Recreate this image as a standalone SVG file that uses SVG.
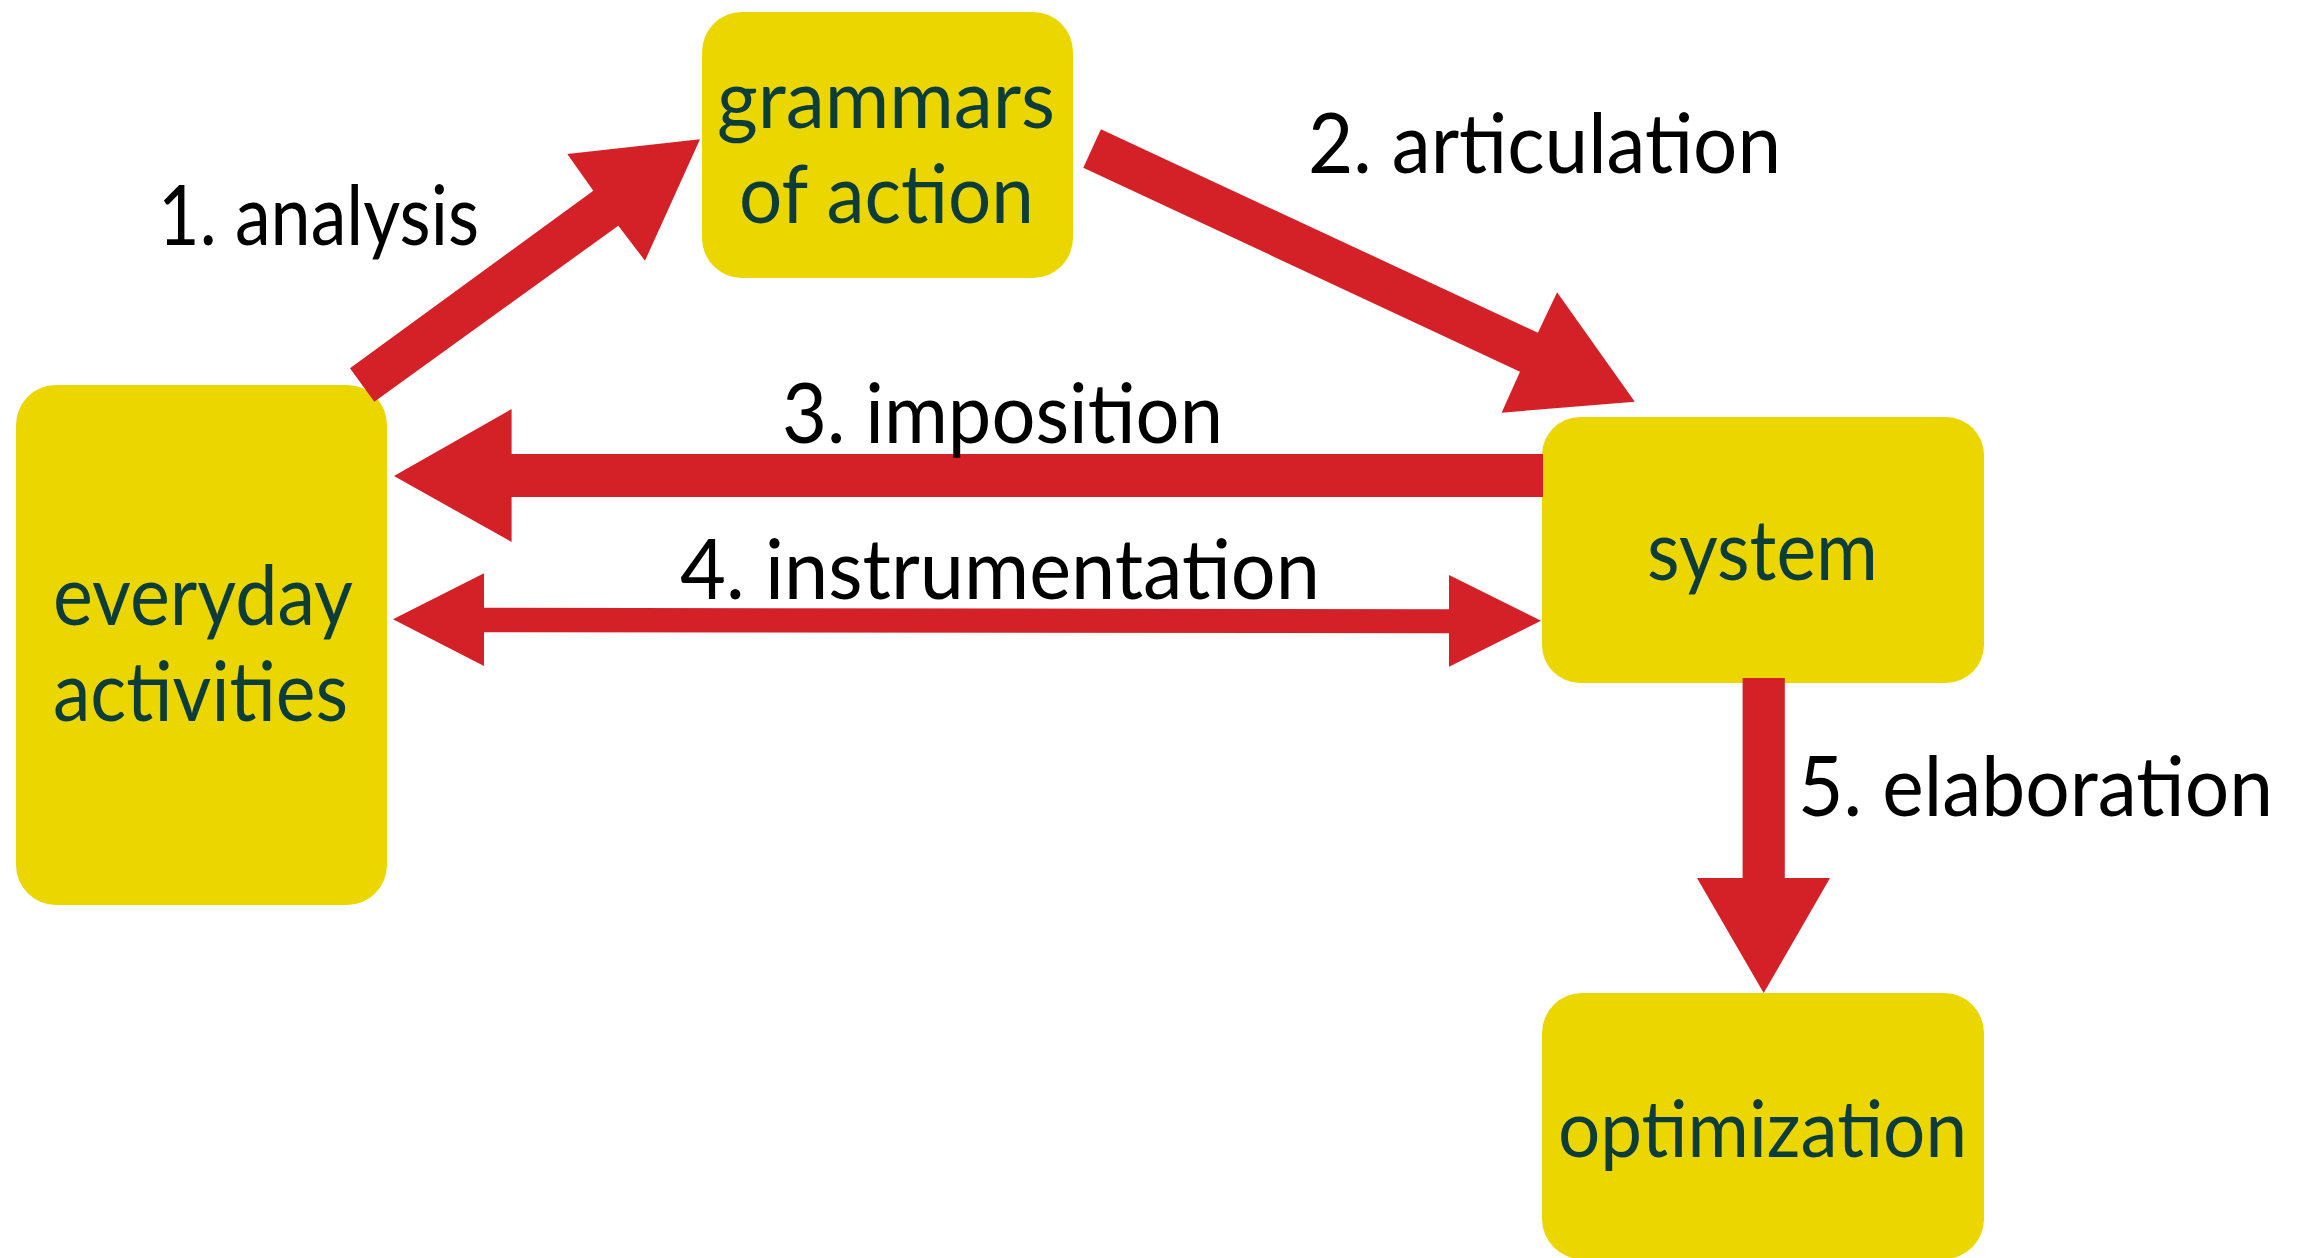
<svg xmlns="http://www.w3.org/2000/svg" width="2308" height="1258" viewBox="0 0 2308 1258">
<style>
.box{fill:#ECD600}
.nt{fill:#0C3D38;font-family:Lato,"Open Sans","Liberation Sans",sans-serif}
.lb{fill:#000;font-family:Lato,"Open Sans","Liberation Sans",sans-serif;font-size:84px}
.ar{fill:#D42027}
</style>
<rect width="2308" height="1258" fill="#fff"/>
<g id="everyday-activities">
<rect class="box" x="16" y="385" width="371" height="520" rx="40"/>
<text class="nt" x="53" y="625" font-size="84" textLength="300" lengthAdjust="spacingAndGlyphs">everyday</text>
<text class="nt" x="53" y="721" font-size="84" textLength="295" lengthAdjust="spacingAndGlyphs">activities</text>
</g>
<g id="grammars-of-action">
<rect class="box" x="702" y="12" width="371" height="266" rx="40"/>
<text class="nt" x="717" y="128" font-size="82" textLength="338" lengthAdjust="spacingAndGlyphs">grammars</text>
<text class="nt" x="739" y="223" font-size="82" textLength="295" lengthAdjust="spacingAndGlyphs">of action</text>
</g>
<g id="system">
<rect class="box" x="1542" y="417" width="442" height="266" rx="38"/>
<text class="nt" x="1647" y="580" font-size="84" textLength="231" lengthAdjust="spacingAndGlyphs">system</text>
</g>
<g id="optimization">
<rect class="box" x="1542" y="993" width="442" height="266" rx="40"/>
<text class="nt" x="1558" y="1157" font-size="80" textLength="409" lengthAdjust="spacingAndGlyphs">optimization</text>
</g>
<g id="connectors">
<polygon class="ar" points="350,368.3 593.3,190.7 567.3,154 700,139.3 645,260.7 618.3,225.7 374.3,401.7"/>
<polygon class="ar" points="1100.9,129.3 1537.9,332.7 1557.1,292.3 1634.8,401.7 1501.6,412.7 1520,371.7 1083.3,167.7"/>
<polygon class="ar" points="1543,454 511.6,454 511.6,409 394,476 511.6,542 511.6,497 1543,497"/>
<polygon class="ar" points="393,619.3 484,573.3 484,607.7 1449,609.3 1449,575 1541,620.7 1449,666.7 1449,633.3 484,632.3 484,666"/>
<polygon class="ar" points="1742.6,678 1784.8,678 1784.8,878 1830,878 1763.7,993 1697,878 1742.6,878"/>
</g>
<g id="labels">
<text class="lb" x="158" y="245" textLength="321" lengthAdjust="spacingAndGlyphs">1. analysis</text>
<text class="lb" x="1308" y="173" textLength="473" lengthAdjust="spacingAndGlyphs">2. articulation</text>
<text class="lb" x="782" y="443" textLength="441" lengthAdjust="spacingAndGlyphs">3. imposition</text>
<text class="lb" x="680" y="599" textLength="640" lengthAdjust="spacingAndGlyphs">4. instrumentation</text>
<text class="lb" x="1798" y="816" textLength="475" lengthAdjust="spacingAndGlyphs">5. elaboration</text>
</g>
</svg>
